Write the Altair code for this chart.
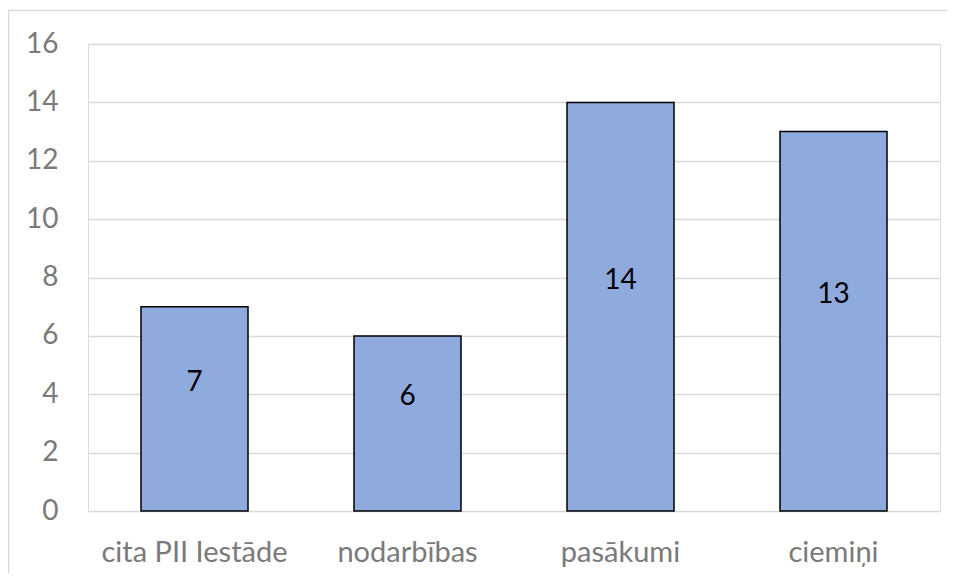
import altair as alt
import pandas as pd

categories = ["cita PII Iestāde", "nodarbības", "pasākumi", "ciemiņi"]
values = [7, 6, 14, 13]

df = pd.DataFrame({"cat": categories, "val": values})
df["mid"] = df["val"] / 2

FONT = "Lato"

base = alt.Chart(df)

bars = base.mark_bar(
    fill="#8FAADC", stroke="#000000", strokeWidth=1.5, size=107
).encode(
    x=alt.X("cat:N", sort=categories, title=None,
            scale=alt.Scale(paddingInner=0, paddingOuter=0),
            axis=alt.Axis(labelAngle=0, labelFontSize=29, labelColor="#7a7a7a",
                          labelFont=FONT, labelPadding=27, ticks=False,
                          labelLimit=0, labelOverlap=False,
                          domain=False, grid=False)),
    y=alt.Y("val:Q", title=None,
            scale=alt.Scale(domain=[0, 16], nice=False),
            axis=alt.Axis(values=list(range(0, 17, 2)), labelFontSize=28,
                          labelColor="#7a7a7a", labelFont=FONT, labelPadding=30,
                          ticks=False, domain=False, gridColor="#d9d9d9",
                          gridWidth=1.5)),
)

labels = base.mark_text(fontSize=28, font=FONT, color="#000000", dy=-26).encode(
    x=alt.X("cat:N", sort=categories),
    y=alt.Y("mid:Q"),
    text=alt.Text("val:Q"),
)

border = base.mark_rect(fill=None, filled=False, stroke="#d9d9d9", strokeWidth=1.5).encode(
    x=alt.value(-79.5), x2=alt.value(900), y=alt.value(-33.5), y2=alt.value(600)
).transform_filter(alt.datum.cat == "pasākumi")

chart = alt.layer(border, bars, labels).properties(
    width=852, height=467,
    autosize=alt.AutoSizeParams(type="none"),
    padding={"left": 80, "top": 36, "right": 7, "bottom": 62},
).configure_view(stroke=None).configure(background="white")

chart.save("out.html", embed_options={"renderer": "svg", "actions": False})
